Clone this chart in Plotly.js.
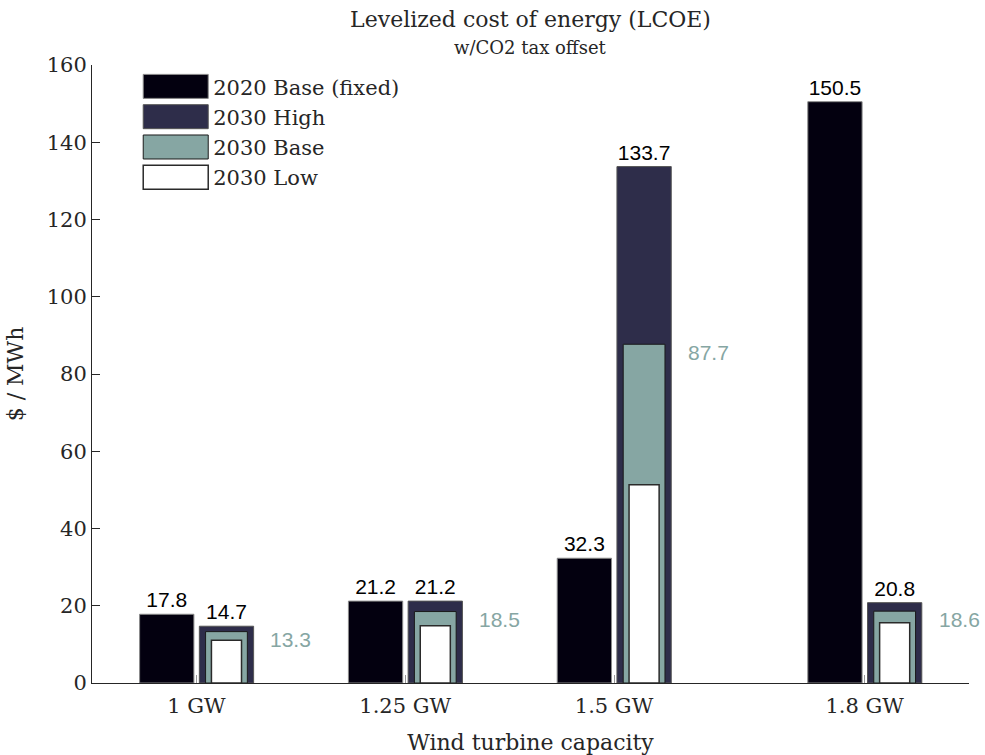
<!DOCTYPE html>
<html>
<head>
<meta charset="utf-8">
<script src="https://cdn.plot.ly/plotly-3.0.1.min.js"></script>
<style>html,body{margin:0;padding:0;background:#fff;}#chart{width:985px;height:755px;}</style>
</head>
<body>
<div id="chart"></div>
<script>
// ---- data ----
const capacities = [1, 1.25, 1.5, 1.8];
const capacityLabels = ['1 GW', '1.25 GW', '1.5 GW', '1.8 GW'];
const base2020 = [17.8, 21.2, 32.3, 150.5];
const high2030 = [14.7, 21.2, 133.7, 20.8];
const base2030 = [13.3, 18.5, 87.7, 18.6];
const low2030 = [11.1, 14.8, 51.3, 15.6];
const seriesNames = ['2020 Base (fixed)', '2030 High', '2030 Base', '2030 Low'];
const titleText = 'Levelized cost of energy (LCOE)';
const subtitleText = 'w/CO2 tax offset';

// ---- styles ----
const serif = 'DejaVu Serif';
const sans = 'Liberation Sans';
const txtCol = '#262626';
const labelFont = {family: sans, size: 21, color: '#000000'};
const tealCol = '#86A6A3';
const fmt = v => v.toFixed(1);

const wWide = 0.065, wMid = 0.05, wNarrow = 0.036;
const offLeft = -0.068, offRight = 0.0035;

const traces = [
  {
    type: 'bar', name: seriesNames[0], legendgroup: 'a',
    x: capacities, y: base2020,
    width: wWide, offset: offLeft,
    marker: {color: '#03000F', line: {color: '#8a8a8a', width: 1}},
    text: base2020.map(fmt), textposition: 'outside', textfont: labelFont,
    constraintext: 'none', cliponaxis: false, hoverinfo: 'y+name'
  },
  {
    type: 'bar', name: seriesNames[1], legendgroup: 'b',
    x: capacities, y: high2030,
    width: wWide, offset: offRight,
    marker: {color: '#2E2D4A', line: {color: '#555555', width: 1}},
    text: high2030.map(fmt), textposition: 'outside', textfont: labelFont,
    constraintext: 'none', cliponaxis: false, hoverinfo: 'y+name'
  },
  {
    type: 'bar', name: seriesNames[2], legendgroup: 'c',
    x: capacities, y: base2030,
    width: wMid, offset: offRight + (wWide - wMid) / 2,
    marker: {color: tealCol, line: {color: '#1a1a1a', width: 1}},
    textposition: 'none', hoverinfo: 'y+name'
  },
  {
    type: 'bar', name: seriesNames[3], legendgroup: 'd',
    x: capacities, y: low2030,
    width: wNarrow, offset: offRight + (wWide - wNarrow) / 2,
    marker: {color: '#FFFFFF', line: {color: '#2a2a2a', width: 1.5}},
    textposition: 'none', hoverinfo: 'y+name'
  }
];

const annotations = capacities.map((c, i) => ({
  x: c, y: base2030[i], xref: 'x', yref: 'y',
  text: fmt(base2030[i]), showarrow: false,
  xanchor: 'left', yanchor: 'middle', xshift: 72, yshift: -8,
  font: {family: sans, size: 21, color: tealCol}
}));
annotations.push({
  x: 0.5, y: 1 + 17 / 618, xref: 'paper', yref: 'paper',
  text: subtitleText, showarrow: false, xanchor: 'center', yanchor: 'middle',
  font: {family: serif, size: 18, color: txtCol}
});

const layout = {
  width: 985, height: 755,
  margin: {l: 92, r: 16, t: 65, b: 72, pad: 0},
  paper_bgcolor: '#ffffff', plot_bgcolor: '#ffffff',
  font: {family: serif, size: 21, color: txtCol},
  barmode: 'overlay',
  showlegend: true,
  title: {
    text: titleText,
    font: {family: serif, size: 22, color: txtCol},
    x: 0.5, xanchor: 'center', xref: 'paper',
    y: 1 - 19 / 755, yanchor: 'middle', yref: 'container'
  },
  xaxis: {
    range: [0.875, 1.925],
    tickmode: 'array', tickvals: capacities, ticktext: capacityLabels,
    ticks: 'inside', ticklen: 8, tickcolor: '#999999', tickwidth: 1,
    ticklabelstandoff: 4,
    showline: true, linecolor: txtCol, linewidth: 1,
    showgrid: false, zeroline: false,
    tickfont: {family: serif, size: 21, color: txtCol},
    title: {text: 'Wind turbine capacity', font: {family: serif, size: 22, color: txtCol}, standoff: 17}
  },
  yaxis: {
    range: [0, 160], dtick: 20, tick0: 0,
    ticks: 'inside', ticklen: 8, tickcolor: txtCol, tickwidth: 1,
    showline: true, linecolor: txtCol, linewidth: 1,
    showgrid: false, zeroline: false,
    tickfont: {family: serif, size: 21, color: txtCol},
    title: {text: '$ / MWh', font: {family: serif, size: 22, color: txtCol}, standoff: 17}
  },
  legend: {
    x: 0.047, y: 0.998, xanchor: 'left', yanchor: 'top',
    bgcolor: 'rgba(0,0,0,0)', borderwidth: 0,
    font: {family: serif, size: 21, color: txtCol},
    itemwidth: 70, tracegroupgap: 2, traceorder: 'normal'
  },
  annotations: annotations
};

function widenLegendSwatches() {
  document.querySelectorAll('#chart .legend .traces').forEach(tr => {
    const txt = tr.querySelector('.legendtext');
    const p = tr.querySelector('.legendpoints path');
    if (!txt || !p) return;
    const tx = parseFloat(txt.getAttribute('x')) || 40;
    p.setAttribute('d', 'M' + (tx - 5) + ',12H' + (tx - 70) + 'V-12H' + (tx - 5) + 'Z');
    p.removeAttribute('transform');
  });
}

Plotly.newPlot('chart', traces, layout, {displayModeBar: false, staticPlot: true}).then(widenLegendSwatches);
</script>
</body>
</html>
